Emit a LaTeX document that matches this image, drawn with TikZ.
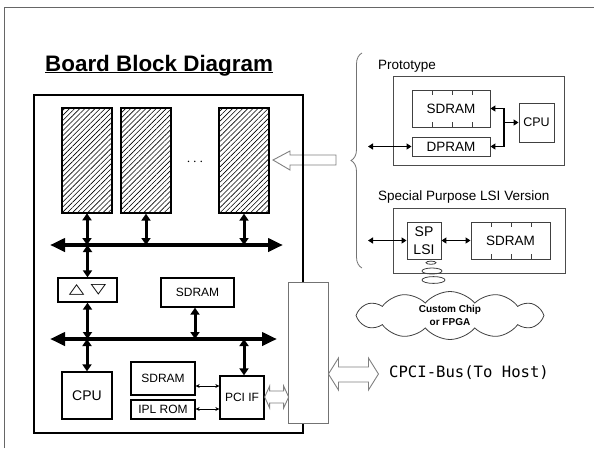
\documentclass[tikz,border=0pt]{standalone}
\usepackage{fontspec}
\setmainfont{Liberation Sans}
\newfontfamily\symfont{DejaVu Sans}
\newfontfamily\busfont{DejaVu Sans Mono}
\usepackage{xcolor}
\usepackage{tikz}
\usetikzlibrary{arrows.meta,shapes.symbols,patterns.meta,decorations.pathreplacing,positioning,calc}

\tikzset{
	blk/.style={draw, line width=1.3pt, inner sep=0pt, font=\fontsize{12}{14}\selectfont},
	chip/.style={draw, line width=1.3pt, inner sep=0pt, pattern={Lines[angle=45,distance=3.6pt,line width=0.6pt]}},
	pblk/.style={draw=black!75, line width=0.9pt, inner sep=0pt, font=\fontsize{13.5}{16}\selectfont},
	bus/.style={line width=4pt, {Triangle[length=15pt,width=13pt]}-{Triangle[length=15pt,width=13pt]}},
	link/.style={line width=3pt, {Triangle[length=7pt,width=9pt]}-{Triangle[length=7pt,width=9pt]}},
	thinlink/.style={line width=0.7pt, {Stealth[length=4pt,width=4pt]}-{Stealth[length=4pt,width=4pt]}},
	plink/.style={line width=1.3pt, {Triangle[length=5pt,width=6pt]}-{Triangle[length=5pt,width=6pt]}},
	hollow/.style={draw=black!50, line width=0.9pt},
	bubble/.style={draw=black!75, line width=0.8pt},
}

\begin{document}
\begin{tikzpicture}[x=1pt, y=-1pt]
		\useasboundingbox (0,0) rectangle (594,448);
		\draw[black!60, line width=0.8pt] (4,448) -- (4,7) -- (594,7);

		% title
		\node[anchor=base west, inner sep=0pt, font=\fontsize{22.4}{26}\selectfont\bfseries] (title) at (45,71) {Board Block Diagram};
		\draw[line width=1.4pt] ([yshift=-1.6pt]title.base west) -- ([yshift=-1.6pt]title.base east);

		% board
		\draw[hollow] (273,160) -- (290,151) -- (290,155) -- (336,155) -- (336,165) -- (290,165) -- (290,170) -- cycle;
		\node[draw, line width=2.2pt, minimum width=269pt, minimum height=338pt] (board) at (168.5,264) {};
		\node[chip, minimum width=50pt, minimum height=105pt] (mem1) at (87,160.5) {};
		\node[chip, minimum width=50pt, minimum height=105pt] (mem2) at (146,160.5) {};
		\node[chip, minimum width=50pt, minimum height=105pt] (mem3) at (244,160.5) {};
		\node[font=\fontsize{14}{16}\selectfont] (dots) at (195,162) {$\cdots$};

		\coordinate (busA) at (50,245);
		\coordinate (busAe) at (283,245);
		\draw[bus] (busA) -- (busAe);
		\draw[link] (mem1.south) -- (mem1.south |- busA);
		\draw[link] (mem2.south) -- (mem2.south |- busA);
		\draw[link] (mem3.south) -- (mem3.south |- busA);

		\node[blk, minimum width=59pt, minimum height=24pt, font=\symfont\fontsize{14}{16}\selectfont] (buf) at (87.5,290) {\scalebox{1.45}[1]{△}\hspace{6pt}\scalebox{1.45}[1]{▽}};
		\node[blk, minimum width=73pt, minimum height=29pt] (sdramA) at (197.5,292.5) {SDRAM};
		\draw[link] (busA -| buf) -- (buf.north);

		\coordinate (busB) at (50,339);
		\coordinate (busBe) at (277,339);
		\draw[bus] (busB) -- (busBe);
		\draw[link] (buf.south) -- (buf.south |- busB);
		\draw[link] (sdramA.south -| 195,0) -- (busB -| 195,0);

		\node[blk, minimum width=50pt, minimum height=47pt, font=\fontsize{14}{16}\selectfont] (cpu) at (87,395.5) {CPU};
		\node[blk, minimum width=64pt, minimum height=33pt] (sdramB) at (163,378.5) {SDRAM};
		\node[blk, minimum width=64pt, minimum height=19pt] (iplrom) at (163,409.5) {IPL ROM};
		\node[blk, minimum width=44pt, minimum height=43pt] (pciif) at (242,397.5) {PCI IF};
		\draw[link] (busB -| cpu) -- (cpu.north);
		\draw[link] (busB -| 244,0) -- (pciif.north -| 244,0);
		\draw[thinlink] (sdramB.east |- 0,386) -- (pciif.west |- 0,386);
		\draw[thinlink] (iplrom.east |- 0,409) -- (pciif.west |- 0,409);

		% connector and host bus
		\node[draw=black!55, fill=white, line width=0.9pt, minimum width=40pt, minimum height=141pt] (conn) at (308,352.5) {};
		\draw[hollow] (pciif.east |- 0,397) -- ++(5,-11) -- ++(0,5) -- ++(14,0) -- ++(0,-5) -- ++(5,11) -- ++(-5,11) -- ++(0,-5) -- ++(-14,0) -- ++(0,5) -- cycle;
		\draw[hollow] (conn.east |- 0,374) -- ++(10,-16) -- ++(0,9) -- ++(30,0) -- ++(0,-9) -- ++(10,16) -- ++(-10,16) -- ++(0,-8) -- ++(-30,0) -- ++(0,8) -- cycle;
		\node[anchor=west, inner sep=0pt, font=\busfont\fontsize{15.6}{18}\selectfont] (host) at (389,373) {CPCI-Bus(To Host)};

		% variants
		\draw[black!55, line width=0.8pt, decorate, decoration={brace, amplitude=11pt}] (362,268) -- (362,53);

		\node[anchor=base west, inner sep=0pt, font=\fontsize{13.5}{16}\selectfont] (protolbl) at (378,69) {Prototype};
		\node[draw=black!70, line width=0.9pt, minimum width=171pt, minimum height=89pt] (proto) at (478.5,120.5) {};
		\node[pblk, minimum width=78pt, minimum height=37pt] (sdramP) at (451,108.5) {SDRAM};
		\node[pblk, minimum width=78pt, minimum height=19pt] (dpram) at (451,146.5) {DPRAM};
		\node[pblk, minimum width=35pt, minimum height=39pt, font=\fontsize{12.5}{15}\selectfont] (cpuP) at (536.5,122.5) {CPU};
		\foreach \x in {432,452,472} {
			\draw[black!75, line width=0.6pt] (\x,90) -- (\x,95);
			\draw[black!75, line width=0.6pt] (\x,127) -- (\x,122);
		}
		\coordinate (pj) at (504,122.5);
		\draw[plink] (sdramP.east) -- (sdramP.east -| pj) -- (dpram.east -| pj) -- (dpram.east);
		\draw[line width=1.3pt, -{Triangle[length=5pt,width=6pt]}] (pj) -- (cpuP.west);
		\coordinate (extP) at (368,146.5);
		\draw[plink] (extP) -- (dpram.west);

		\node[anchor=base west, inner sep=0pt, font=\fontsize{13.5}{16}\selectfont] (splbl) at (378,200) {Special Purpose LSI Version};
		\node[draw=black!70, line width=0.9pt, minimum width=172pt, minimum height=65pt] (spver) at (479,240.5) {};
		\node[pblk, minimum width=34pt, minimum height=37pt, align=center, font=\fontsize{14}{18}\selectfont] (splsi) at (424,240.5) {SP\\LSI};
		\node[pblk, minimum width=79pt, minimum height=37pt] (sdramS) at (510.5,240.5) {SDRAM};
		\foreach \x in {491,511,531} {
			\draw[black!75, line width=0.6pt] (\x,222) -- (\x,227);
			\draw[black!75, line width=0.6pt] (\x,259) -- (\x,254);
		}
		\coordinate (extS) at (368,240.5);
		\draw[plink] (extS) -- (splsi.west);
		\draw[plink] (splsi.east) -- (sdramS.west);

		% thought bubbles and cloud
		\draw[bubble] (431,262.7) ellipse [x radius=5, y radius=1.6];
		\draw[bubble] (432,271) ellipse [x radius=10, y radius=3];
		\draw[bubble] (433.5,280) ellipse [x radius=11.5, y radius=3.4];
		\node[cloud, draw=black!75, line width=0.8pt, cloud puffs=12, cloud puff arc=100, aspect=4, minimum width=188pt, minimum height=48pt, inner sep=0pt, align=center, font=\fontsize{10}{13}\selectfont\bfseries] (cloud) at (450,315.5) {Custom Chip\\or FPGA};
	\end{tikzpicture}
\end{document}
